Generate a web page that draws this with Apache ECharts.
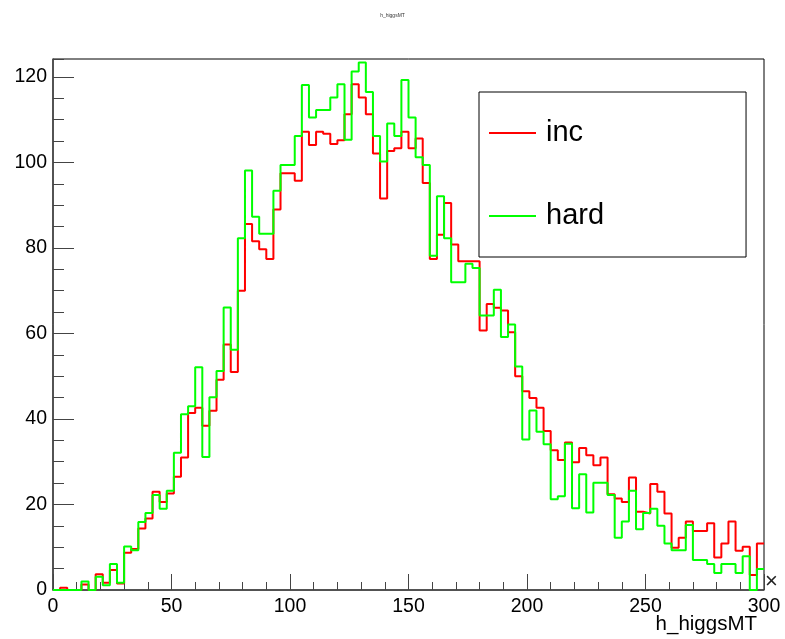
<!DOCTYPE html>
<html><head><meta charset="utf-8">
<script src="https://cdn.jsdelivr.net/npm/echarts@6/dist/echarts.min.js"></script>
<style>html,body{margin:0;padding:0;background:#fff}#c{width:785px;height:639px}</style>
</head><body><div id="c"></div>
<script>
const chartTitle = 'h_higgsMT';
const xAxisTitle = 'h_higgsMT';
const binWidth = 3;
const xRange = [0, 300];
const yRange = [0, 124.2];
const seriesNames = ['inc', 'hard'];
const seriesColors = ['#ff0000', '#00ff00'];
const incValues = [
  0, 0.5, 0, 0, 1.3, 0, 3.7, 1.7, 4.7, 1.5,
  8.7, 9.6, 14.4, 16.7, 23, 20.6, 22.6, 26.5, 31, 41.4,
  42.6, 38.4, 41.9, 49.2, 57.4, 51, 70, 85.6, 81.6, 79.7,
  77.4, 89, 97.5, 97.5, 95.7, 107.2, 104.1, 107.2, 106.7, 104.3,
  105.2, 111.3, 118.3, 115.2, 111.3, 102.1, 91.6, 102.7, 103.3, 107.2,
  103.3, 105.6, 95.2, 77.4, 83.1, 90.5, 80.8, 76.9, 76.9, 76.9,
  60.7, 66.9, 66.0, 65.4, 60.3, 50.0, 46.5, 44.9, 42.6, 37.2,
  32.7, 30.4, 34.5, 29.9, 33.2, 31.5, 29.2, 31.0, 22.4, 21.4,
  20.6, 26.3, 18.3, 17.9, 24.8, 23.0, 17.9, 9.9, 12.2, 16.0,
  13.8, 13.8, 15.6, 7.6, 10.9, 16.0, 9.2, 10.1, 3.5, 10.9
];
const hardValues = [
  0, 0, 0, 0, 2, 0, 3.1, 1.1, 6.1, 1.7,
  10.2, 9.3, 15.9, 18, 22.2, 19, 23.2, 32.1, 41.1, 43,
  52.1, 31.1, 45.1, 51.2, 66.1, 56.2, 82.3, 98.1, 87.3, 83.3,
  83.3, 93.4, 99.4, 99.4, 106.2, 118.1, 110.5, 112.3, 112.3, 115.2,
  118.3, 105.3, 121.3, 123.4, 116.5, 106.2, 100.2, 109.1, 106.2, 119.3,
  110.5, 101.2, 99.4, 78.2, 92.1, 82.3, 72.0, 72.0, 76.3, 75.3,
  64.2, 64.2, 70.2, 59.2, 62.1, 52.3, 35.2, 42.0, 37.0, 34.1,
  21.2, 21.9, 34.2, 19.1, 27.1, 18.1, 25.1, 25.1, 22.2, 12.2,
  16.0, 23.2, 14.2, 18, 19, 15, 10.9, 9.3, 9.3, 15.2,
  7.0, 7.0, 6.1, 4.0, 6.1, 6.1, 4.0, 7.9, 0, 4.9
];

function toSteps(values) {
  const pts = values.map((v, i) => [i * binWidth, v]);
  pts.push([values.length * binWidth, values[values.length - 1]]);
  return pts;
}

const FONT = 'Liberation Sans';
const AX = '#444';
const chart = echarts.init(document.getElementById('c'), null, {renderer: 'canvas'});
const grid = {left: 53, right: 21, top: 59, bottom: 49, show: true, borderColor: '#000', borderWidth: 1, backgroundColor: '#fff'};

chart.setOption({
  animation: false,
  backgroundColor: '#fff',
  title: {text: chartTitle, left: 'center', top: 8, textStyle: {fontSize: 5, fontWeight: 'normal', color: '#333', fontFamily: FONT}},
  grid: grid,
  legend: {
    data: seriesNames,
    orient: 'vertical',
    left: 479, top: 92,
    padding: [26, 142, 26, 10],
    itemGap: 53,
    icon: 'rect',
    itemWidth: 47, itemHeight: 2,
    backgroundColor: '#fff',
    borderColor: '#000', borderWidth: 1,
    textStyle: {fontSize: 29, fontFamily: FONT, color: '#000', lineHeight: 30, padding: [0, 0, 0, 5]}
  },
  xAxis: [
    {type: 'value', min: xRange[0], max: xRange[1], interval: 50, position: 'bottom',
     axisLine: {show: true, onZero: false, lineStyle: {color: AX, width: 1.5}},
     axisTick: {show: true, inside: true, length: 16, lineStyle: {color: AX}},
     axisLabel: {fontSize: 19.5, fontFamily: FONT, color: '#000', margin: 7},
     splitLine: {show: false}},
    {type: 'value', min: xRange[0], max: xRange[1], interval: 10, position: 'bottom',
     axisLine: {show: false},
     axisTick: {show: true, inside: true, length: 8, lineStyle: {color: AX}},
     axisLabel: {show: false}, splitLine: {show: false}}
  ],
  yAxis: [
    {type: 'value', min: yRange[0], max: yRange[1], interval: 20,
     axisLine: {show: true, onZero: false, lineStyle: {color: AX, width: 1.5}},
     axisTick: {show: true, inside: true, length: 21, lineStyle: {color: AX}},
     axisLabel: {fontSize: 19.5, fontFamily: FONT, color: '#000', margin: 6, showMaxLabel: false},
     splitLine: {show: false}},
    {type: 'value', min: yRange[0], max: yRange[1], interval: 5, position: 'left',
     axisLine: {show: false},
     axisTick: {show: true, inside: true, length: 11, lineStyle: {color: AX}},
     axisLabel: {show: false}, splitLine: {show: false}}
  ],
  series: [
    {name: seriesNames[0], type: 'line', step: 'end', data: toSteps(incValues), symbol: 'none',
     lineStyle: {color: seriesColors[0], width: 2}, itemStyle: {color: seriesColors[0]}, z: 3},
    {name: seriesNames[1], type: 'line', step: 'end', data: toSteps(hardValues), symbol: 'none',
     lineStyle: {color: seriesColors[1], width: 2}, itemStyle: {color: seriesColors[1]}, z: 4}
  ],
  graphic: [
    {type: 'text', right: 28, top: 614, style: {text: xAxisTitle, fontSize: 20.5, fontFamily: FONT, fill: '#000'}},
    {type: 'text', left: 765, top: 571, style: {text: '×', fontSize: 22, fontFamily: FONT, fill: '#222'}}
  ]
});
</script></body></html>
